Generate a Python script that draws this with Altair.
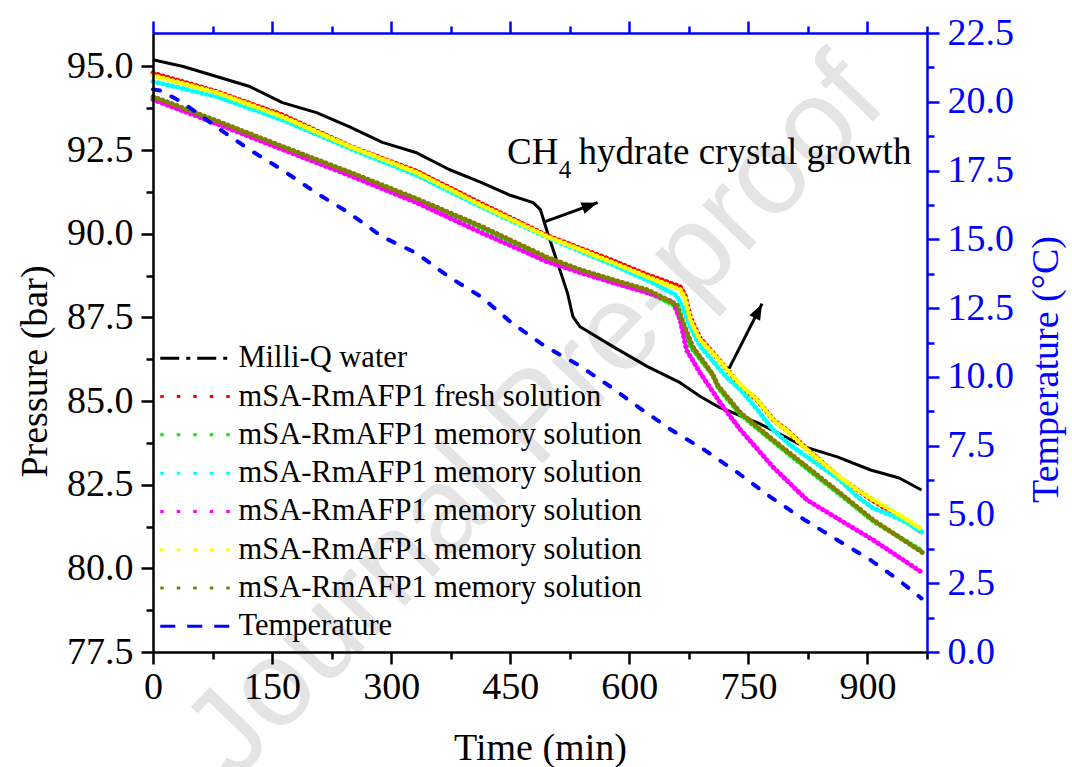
import altair as alt
import pandas as pd

# ---------------- data: time (min) vs pressure (bar) ----------------
MILLIQ_T = [0, 38, 80, 122, 163, 206, 247, 289, 331, 373, 414, 450, 479, 488, 492, 497,
            510, 522, 529, 538, 580, 623, 664, 690, 712, 762, 821, 862, 904, 940, 968]
MILLIQ_P = [95.2, 95.0, 94.7, 94.4, 93.92, 93.62, 93.2, 92.73, 92.43, 91.92, 91.53, 91.15,
            90.93, 90.72, 90.42, 90.03, 89.1, 88.24, 87.52, 87.22, 86.62, 86.03, 85.55,
            85.13, 84.83, 84.35, 83.63, 83.33, 82.94, 82.7, 82.34]

FRESH_T = [0, 80, 163, 248, 332, 412, 496, 538, 579, 622, 664, 670, 677, 689, 705, 723,
           740, 761, 781, 802, 824, 844, 865, 887, 907, 929, 950, 970]
FRESH_P = [94.8, 94.25, 93.55, 92.62, 91.87, 90.92, 89.95, 89.57, 89.2, 88.78, 88.42, 88.18,
           87.5, 86.88, 86.45, 85.95, 85.45, 85.03, 84.45, 84.06, 83.56, 83.15, 82.7,
           82.35, 82.02, 81.7, 81.4, 81.05]

MEM1_T = [0, 80, 163, 248, 332, 412, 496, 538, 579, 622, 658, 666, 678, 705, 712, 740, 781,
          824, 865, 907, 970]
MEM1_P = [94.05, 93.33, 92.56, 91.8, 91.0, 90.2, 89.26, 88.9, 88.6, 88.28, 87.85, 87.3,
          86.6, 85.78, 85.4, 84.6, 83.8, 82.98, 82.22, 81.42, 80.5]

MEM2_T = [0, 80, 163, 248, 332, 412, 496, 538, 579, 622, 660, 668, 677, 689, 705, 723, 740,
          761, 781, 802, 824, 844, 865, 887, 907, 929, 950, 970]
MEM2_P = [94.55, 94.1, 93.4, 92.55, 91.75, 90.82, 89.9, 89.48, 89.08, 88.62, 88.15, 87.75,
          87.2, 86.65, 86.2, 85.7, 85.34, 84.75, 84.14, 83.7, 83.33, 83.0, 82.65, 82.15,
          81.8, 81.6, 81.36, 81.06]

MEM3_T = [0, 80, 163, 248, 332, 412, 496, 538, 579, 622, 655, 664, 672, 689, 718, 740, 781,
          824, 865, 907, 970]
MEM3_P = [94.01, 93.29, 92.52, 91.74, 90.93, 90.05, 89.17, 88.84, 88.54, 88.24, 87.97, 87.43,
          86.53, 85.85, 84.83, 84.14, 83.03, 82.04, 81.45, 80.85, 79.86]

MEM4_T = [0, 80, 163, 248, 332, 412, 496, 538, 579, 622, 664, 670, 677, 689, 705, 723, 740,
          761, 781, 802, 824, 844, 865, 887, 907, 929, 950, 970]
MEM4_P = [94.73, 94.22, 93.5, 92.61, 91.83, 90.87, 89.92, 89.53, 89.14, 88.72, 88.33, 88.09,
          87.43, 86.83, 86.44, 85.94, 85.49, 85.04, 84.44, 84.05, 83.54, 83.15, 82.73,
          82.35, 82.05, 81.75, 81.45, 81.15]

MEM5_T = [0, 80, 163, 248, 332, 412, 496, 538, 579, 622, 660, 668, 680, 705, 712, 740, 781,
          824, 865, 907, 970]
MEM5_P = [94.1, 93.38, 92.61, 91.84, 91.05, 90.24, 89.3, 88.93, 88.63, 88.33, 87.88, 87.34,
          86.62, 85.8, 85.45, 84.65, 83.84, 83.03, 82.26, 81.45, 80.46]

# ---------------- data: time (min) vs temperature (degC) ----------------
TEMP_T = [0, 10, 38, 80, 122, 163, 206, 247, 289, 331, 373, 414, 452, 495, 536, 577, 611,
          653, 695, 737, 778, 821, 862, 904, 940, 968]
TEMP_C = [20.45, 20.4, 19.96, 19.08, 18.25, 17.52, 16.68, 15.96, 15.09, 14.51, 13.63, 12.9,
          11.96, 11.09, 10.43, 9.63, 8.91, 8.07, 7.34, 6.51, 5.63, 4.8, 4.07, 3.34, 2.6, 1.95]

SERIES = [
    "Milli-Q water",
    "mSA-RmAFP1 fresh solution",
    "mSA-RmAFP1 memory solution #1",
    "mSA-RmAFP1 memory solution #2",
    "mSA-RmAFP1 memory solution #3",
    "mSA-RmAFP1 memory solution #4",
    "mSA-RmAFP1 memory solution #5",
    "Temperature",
]
COLORS = ["#000000", "#ff0000", "#00ee00", "#00ffff", "#ff00ff", "#ffff00", "#808000", "#0000ff"]
KEY_DASHES = [[19, 7, 4, 7]] + [[3.5, 13]] * 6 + [[15, 12]]

X_TICKS = [0, 75, 150, 225, 300, 375, 450, 525, 600, 675, 750, 825, 900, 975]
P_TICKS = [77.5, 78.75, 80.0, 81.25, 82.5, 83.75, 85.0, 86.25, 87.5, 88.75, 90.0, 91.25,
           92.5, 93.75, 95.0]
T_TICKS = [0.0, 1.25, 2.5, 3.75, 5.0, 6.25, 7.5, 8.75, 10.0, 11.25, 12.5, 13.75, 15.0,
           16.25, 17.5, 18.75, 20.0, 21.25, 22.5]

# arrows: start (t, P) -> tip (t, P)
ARROW1 = [493.9, 90.36, 560.0, 90.93]
ARROW2 = [725.6, 85.97, 767.2, 87.91]

# ---------------- tables ----------------
def frame(name, ts, ps):
    return pd.DataFrame({"t": ts, "P": ps, "series": name})

water_df = frame(SERIES[0], MILLIQ_T, MILLIQ_P)
solution_df = pd.concat([
    frame(SERIES[1], FRESH_T, FRESH_P),
    frame(SERIES[2], MEM1_T, MEM1_P),
    frame(SERIES[3], MEM2_T, MEM2_P),
    frame(SERIES[4], MEM3_T, MEM3_P),
    frame(SERIES[5], MEM4_T, MEM4_P),
    frame(SERIES[6], MEM5_T, MEM5_P),
], ignore_index=True)
temp_df = pd.DataFrame({"t": TEMP_T, "T": TEMP_C})
key_df = pd.DataFrame({"t": pd.Series([], dtype=float), "P": pd.Series([], dtype=float),
                       "series": pd.Series([], dtype=str)})

SERIF = "Liberation Serif"
BLUE = "#0000ff"
FS = 38

x_scale = alt.Scale(domain=[0, 975], nice=False, zero=False)
p_scale = alt.Scale(domain=[77.5, 96.0], nice=False, zero=False)
t_scale = alt.Scale(domain=[0, 22.5], nice=False, zero=False)

major_x = "datum.value % 150 === 0"
major_y = "(datum.value * 4) % 10 === 0"


def axis(orient, values, color, major, **kw):
    return alt.Axis(
        orient=orient, values=values, grid=False, zindex=1,
        domainColor=color, domainWidth=2.5, tickColor=color, tickWidth=2.5,
        tickSize={"condition": {"test": major, "value": 12}, "value": 7},
        labelColor=color, titleColor=color, labelFont=SERIF, titleFont=SERIF,
        labelFontSize=FS, titleFontSize=FS, titleFontWeight="normal",
        labelFlush=False, labelOverlap=False, **kw)


x_bottom = alt.X("t:Q", scale=x_scale, axis=axis(
    "bottom", X_TICKS, "black", major_x, title="Time (min)",
    labelExpr=f"{major_x} ? datum.label : ''", labelPadding=4, titlePadding=23))
x_top = alt.X("t:Q", scale=x_scale, title=None, axis=axis(
    "top", X_TICKS, BLUE, major_x, labels=False))
y_left = alt.Y("P:Q", scale=p_scale, axis=axis(
    "left", P_TICKS, "black", major_y, title="Pressure (bar)",
    labelExpr=f"{major_y} ? format(datum.value, '.1f') : ''", labelPadding=8,
    titlePadding=12, titleY=338))
y_right = alt.Y("T:Q", scale=t_scale, axis=axis(
    "right", T_TICKS, BLUE, major_y, title="Temperature (°C)",
    labelExpr=f"{major_y} ? format(datum.value, '.1f') : ''", labelPadding=8,
    titlePadding=14, titleAngle=270, titleBaseline="top", titleY=336))

key_legend = alt.Legend(
    orient="none", legendX=7, legendY=310, title=None, padding=0,
    labelFont=SERIF, labelFontSize=30.5, labelColor="black", labelLimit=0,
    labelExpr="split(datum.label, ' #')[0]",
    symbolType="M-7,0L7,0", symbolSize=100, symbolStrokeWidth=3, symbolOpacity=1,
    symbolOffset=20, labelOffset=28, rowPadding=7.3)

# diagonal watermark
watermark = alt.Chart(pd.DataFrame({"label": ["Journal Pre-proof"]})).mark_text(
    font="Liberation Sans", fontSize=122, color="#e4e4e4", angle=314,
    align="center", baseline="middle"
).encode(x=alt.value(382), y=alt.value(385), text="label:N")

water = alt.Chart(water_df).mark_line(strokeWidth=3, strokeJoin="round", color="black").encode(
    x=x_bottom, y=y_left)

solutions = alt.Chart(solution_df).mark_line(
    strokeWidth=5, strokeDash=[0.5, 4.5], strokeCap="round"
).encode(x=x_bottom, y=y_left,
         color=alt.Color("series:N", scale=alt.Scale(domain=SERIES, range=COLORS), legend=None),
         order=alt.Order("t:Q"))

# legend keys: the scales carry one colour and one dash pattern per series
legend_keys = alt.Chart(key_df).mark_line(strokeWidth=3).encode(
    x=x_bottom, y=y_left,
    color=alt.Color("series:N", scale=alt.Scale(domain=SERIES, range=COLORS),
                    legend=key_legend),
    strokeDash=alt.StrokeDash("series:N", scale=alt.Scale(domain=SERIES, range=KEY_DASHES),
                              legend=key_legend))

arrow_df = pd.DataFrame({
    "t": [ARROW1[0], ARROW2[0]], "P": [ARROW1[1], ARROW2[1]],
    "t2": [ARROW1[2], ARROW2[2]], "P2": [ARROW1[3], ARROW2[3]]})

shafts = alt.Chart(arrow_df).mark_rule(strokeWidth=3, color="black").encode(
    x=x_bottom, y=y_left, x2="t2:Q", y2="P2:Q")

HEAD = "M0,0L-2,-0.75L-2,0.75Z"
head1 = alt.Chart(arrow_df.iloc[[0]]).mark_point(
    shape=HEAD, size=256, filled=True, color="black", opacity=1, angle=340
).encode(x=alt.X("t2:Q", scale=x_scale), y=alt.Y("P2:Q", scale=p_scale))
head2 = alt.Chart(arrow_df.iloc[[1]]).mark_point(
    shape=HEAD, size=256, filled=True, color="black", opacity=1, angle=297
).encode(x=alt.X("t2:Q", scale=x_scale), y=alt.Y("P2:Q", scale=p_scale))

# "CH4 hydrate crystal growth" with subscript 4
label_df = pd.DataFrame({"t": [446.0, 511.0, 536.0], "P": [92.07, 91.67, 92.07],
                         "txt": ["CH", "4", "hydrate crystal growth"]})
main_text = alt.Chart(label_df.iloc[[0, 2]]).mark_text(
    font=SERIF, fontSize=37, color="black", align="left", baseline="alphabetic"
).encode(x=x_bottom, y=y_left, text="txt:N")
sub_text = alt.Chart(label_df.iloc[[1]]).mark_text(
    font=SERIF, fontSize=25, color="black", align="left", baseline="alphabetic"
).encode(x=x_bottom, y=y_left, text="txt:N")

pressure = alt.layer(
    watermark, water, solutions, legend_keys, shafts, head1, head2, main_text, sub_text
).resolve_scale(color="independent", strokeDash="independent")

temperature = alt.Chart(temp_df).mark_line(
    strokeWidth=4, strokeDash=[7, 13], strokeCap="round", color=BLUE
).encode(x=x_top, y=y_right)

chart = alt.layer(pressure, temperature).resolve_scale(
    y="independent"
).resolve_axis(
    x="independent", y="independent"
).properties(
    width=774, height=619,
    padding={"left": 153, "top": 33, "right": 145, "bottom": 115},
    autosize=alt.AutoSizeParams(type="none"),
).configure_view(stroke="transparent").configure(font=SERIF, background="white")

chart.save("out.html", embed_options={"renderer": "svg", "actions": False})
